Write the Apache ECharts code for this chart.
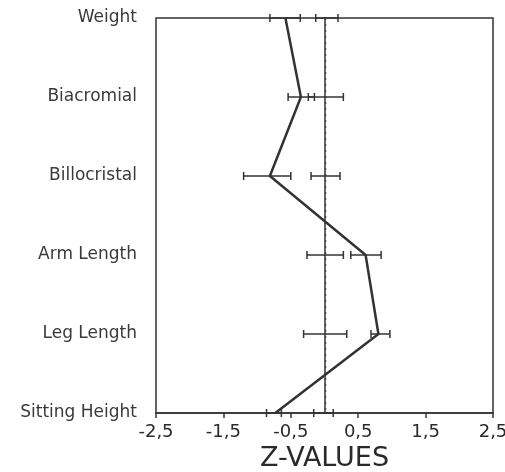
<!DOCTYPE html>
<html>
<head>
<meta charset="utf-8">
<script src="https://cdn.jsdelivr.net/npm/echarts@6/dist/echarts.min.js"></script>
<style>html,body{margin:0;padding:0;background:#fff}#c{width:505px;height:472px}</style>
</head>
<body>
<div id="c"></div>
<script>
var categories = ['Weight', 'Biacromial', 'Billocristal', 'Arm Length', 'Leg Length', 'Sitting Height'];
var zValues = [-0.58, -0.35, -0.81, 0.61, 0.80, -0.73];
var groupBarLow = [-0.81, -0.54, -1.20, 0.39, 0.69, -0.86];
var groupBarHigh = [-0.36, -0.15, -0.50, 0.84, 0.97, -0.64];
var refBarLow = [-0.13, -0.24, -0.20, -0.26, -0.31, -0.16];
var refBarHigh = [0.20, 0.28, 0.23, 0.28, 0.33, 0.13];
var xTicks = [-2.5, -1.5, -0.5, 0.5, 1.5, 2.5];

var ink = '#333';
var barData = [];
for (var i = 0; i < categories.length; i++) {
  barData.push([groupBarLow[i], groupBarHigh[i], i]);
  barData.push([refBarLow[i], refBarHigh[i], i]);
}

function renderBar(params, api) {
  var a = api.coord([api.value(0), api.value(2)]);
  var b = api.coord([api.value(1), api.value(2)]);
  var h = 4;
  var st = { stroke: ink, lineWidth: 1.5 };
  return {
    type: 'group',
    children: [
      { type: 'line', shape: { x1: a[0], y1: a[1], x2: b[0], y2: b[1] }, style: st },
      { type: 'line', shape: { x1: a[0], y1: a[1] - h, x2: a[0], y2: a[1] + h }, style: st },
      { type: 'line', shape: { x1: b[0], y1: b[1] - h, x2: b[0], y2: b[1] + h }, style: st }
    ]
  };
}

function renderZero(params, api) {
  var top = api.coord([0, 0]);
  var bot = api.coord([0, categories.length - 1]);
  return {
    type: 'line',
    shape: { x1: Math.round(top[0]) + 0.5, y1: top[1], x2: Math.round(bot[0]) + 0.5, y2: bot[1] },
    style: { stroke: '#444', lineWidth: 1.5, lineDash: [2, 4] }
  };
}

var chart = echarts.init(document.getElementById('c'));
chart.setOption({
  animation: false,
  backgroundColor: '#fff',
  grid: { left: 156, right: 12, top: 18, bottom: 59, show: true, borderColor: ink, borderWidth: 1.5, containLabel: false, outerBoundsMode: 'none' },
  xAxis: {
    type: 'value', min: -2.5, max: 2.5,
    splitLine: { show: false },
    axisLine: { show: true, lineStyle: { color: ink, width: 1.5 } },
    axisTick: { show: true, customValues: xTicks, length: 5, lineStyle: { color: ink, width: 1.5 } },
    axisLabel: {
      customValues: xTicks, margin: 10, fontSize: 18, color: '#2a2a2a', fontFamily: 'DejaVu Sans',
      formatter: function (v) { return String(v).replace('.', ','); }
    },
    name: 'Z-VALUES', nameLocation: 'middle', nameGap: 26,
    nameTextStyle: { fontSize: 27, color: '#2a2a2a', fontFamily: 'DejaVu Sans' }
  },
  yAxis: {
    type: 'category', data: categories, inverse: true, boundaryGap: false,
    axisLine: { show: true, lineStyle: { color: ink, width: 1.5 } },
    axisTick: { show: false },
    splitLine: { show: false },
    axisLabel: { margin: 19, fontSize: 17, color: '#3a3a3a', fontFamily: 'DejaVu Sans' }
  },
  series: [
    {
      type: 'custom', renderItem: renderZero, data: [[0]],
      encode: { x: 0 }, z: 2, silent: true
    },
    {
      type: 'custom', renderItem: renderBar, data: barData,
      encode: { x: [0, 1], y: 2 }, z: 3
    },
    {
      type: 'line', data: zValues, symbol: 'none', z: 4,
      lineStyle: { color: ink, width: 2.5 }
    }
  ]
});
</script>
</body>
</html>
